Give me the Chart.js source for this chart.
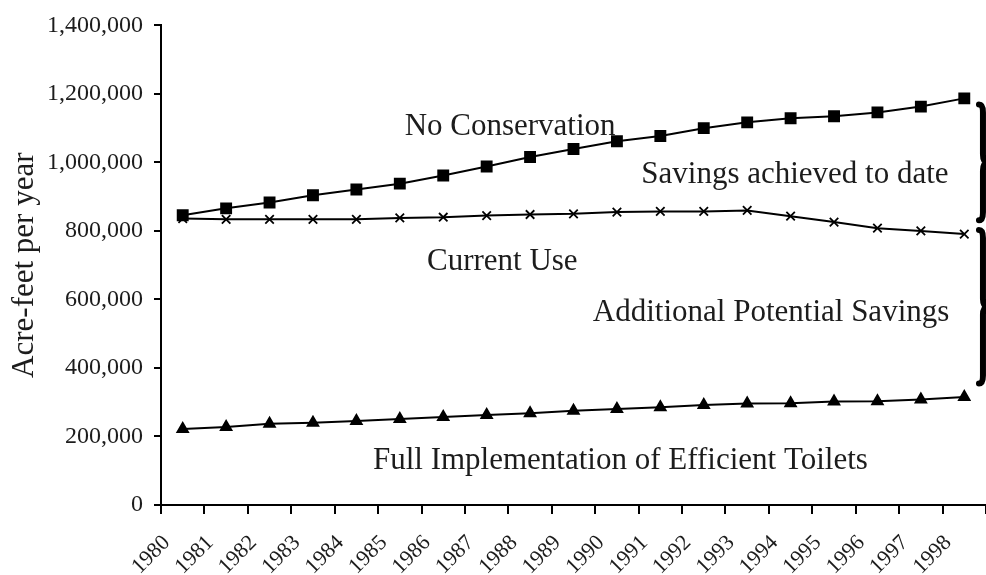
<!DOCTYPE html>
<html>
<head>
<meta charset="utf-8">
<script src="https://cdn.jsdelivr.net/npm/chart.js@4.4.1/dist/chart.umd.min.js"></script>
<style>
  html, body { margin: 0; padding: 0; background: #fff; }
  #wrap { width: 986px; height: 575px; }
</style>
</head>
<body>
<div id="wrap"><canvas id="c" width="986" height="575"></canvas></div>
<script>
// ---- data ----
const years = ['1980','1981','1982','1983','1984','1985','1986','1987','1988','1989',
               '1990','1991','1992','1993','1994','1995','1996','1997','1998'];
const noConservation = [846000, 866000, 883000, 904000, 921000, 938000, 962000, 988000, 1016000, 1039000,
                        1062000, 1077000, 1100000, 1117000, 1129000, 1135000, 1146000, 1163000, 1187000];
const currentUse = [836000, 834000, 834000, 834000, 834000, 838000, 840000, 845000, 848000, 850000,
                    855000, 857000, 857000, 860000, 843000, 826000, 808000, 800000, 791000];
const efficientToilets = [222000, 228000, 237000, 240000, 245000, 251000, 257000, 263000, 268000, 275000,
                          280000, 285000, 292000, 296000, 297000, 302000, 303000, 308000, 315000];
const yTicks = [0, 200000, 400000, 600000, 800000, 1000000, 1200000, 1400000];

// annotation text: [text, category index position, value]
const annotations = [
  ['No Conservation', 7.54, 1103000],
  ['Savings achieved to date', 14.1, 964000],
  ['Current Use', 7.36, 710000],
  ['Additional Potential Savings', 13.55, 560000],
  ['Full Implementation of Efficient Toilets', 10.08, 130000]
];
// braces: [index position, top value, bottom value]
const braces = [
  [18.43, 1169000, 831000],
  [18.43, 803000, 355000]
];

const SERIF = "'Liberation Serif', 'Times New Roman', serif";
const TXT = '#1c1c1c';

const annotationPlugin = {
  id: 'annots',
  afterDatasetsDraw(chart) {
    const ctx = chart.ctx;
    const xs = chart.scales.x, ys = chart.scales.y;
    ctx.save();
    ctx.fillStyle = TXT;
    ctx.font = '31px ' + SERIF;
    ctx.textAlign = 'center';
    ctx.textBaseline = 'middle';
    annotations.forEach(([t, xi, v]) => {
      ctx.fillText(t, xs.getPixelForValue(xi), ys.getPixelForValue(v));
    });
    // braces
    ctx.strokeStyle = '#000';
    ctx.lineWidth = 6;
    ctx.lineCap = 'round';
    braces.forEach(([xi, top, bot]) => {
      const x = xs.getPixelForValue(xi);
      const y1 = ys.getPixelForValue(top), y2 = ys.getPixelForValue(bot);
      const ym = (y1 + y2) / 2;
      const c = 8;
      ctx.beginPath();
      ctx.moveTo(x - 4, y1);
      ctx.quadraticCurveTo(x, y1, x, y1 + c);
      ctx.lineTo(x, ym - c);
      ctx.quadraticCurveTo(x, ym, x + 6, ym);
      ctx.quadraticCurveTo(x, ym, x, ym + c);
      ctx.lineTo(x, y2 - c);
      ctx.quadraticCurveTo(x, y2, x - 4, y2);
      ctx.stroke();
    });
    ctx.restore();
  }
};

new Chart(document.getElementById('c'), {
  type: 'line',
  data: {
    labels: years,
    datasets: [
      { label: 'No Conservation', data: noConservation, borderColor: '#000', backgroundColor: '#000',
        borderWidth: 2, pointStyle: 'rect', pointRadius: 7, pointHoverRadius: 7, tension: 0 },
      { label: 'Current Use', data: currentUse, borderColor: '#000', backgroundColor: '#000',
        borderWidth: 2, pointStyle: 'crossRot', pointRadius: 6, pointBorderWidth: 1.8, tension: 0 },
      { label: 'Full Implementation of Efficient Toilets', data: efficientToilets, borderColor: '#000', backgroundColor: '#000',
        borderWidth: 2, pointStyle: 'triangle', pointRadius: 6, tension: 0 }
    ]
  },
  options: {
    responsive: false,
    devicePixelRatio: 1,
    animation: false,
    layout: { autoPadding: false, padding: { top: 20, right: 0, left: 0, bottom: 0 } },
    plugins: { legend: { display: false }, tooltip: { enabled: false } },
    scales: {
      x: {
        type: 'category',
        offset: true,
        grid: { display: true, offset: true, drawOnChartArea: false, drawTicks: true, tickLength: 9, color: '#000', lineWidth: 2 },
        border: { display: true, color: '#000', width: 2 },
        ticks: { color: TXT, font: { family: SERIF, size: 22 }, minRotation: 45, maxRotation: 45,
                 labelOffset: -16, padding: 16, autoSkip: false },
        afterFit(s) { s.height = 70; s.paddingRight = 0; s.paddingLeft = 0; }
      },
      y: {
        min: 0, max: 1400000,
        afterBuildTicks(s) { s.ticks = yTicks.map(v => ({ value: v })); },
        grid: { display: true, drawOnChartArea: false, drawTicks: true, tickLength: 7, color: '#000', lineWidth: 2 },
        border: { display: true, color: '#000', width: 2 },
        ticks: { color: TXT, font: { family: SERIF, size: 24 }, padding: 11,
                 callback: v => v.toLocaleString('en-US') },
        title: { display: true, text: 'Acre-feet per year', color: TXT, font: { family: SERIF, size: 31 }, padding: { top: 6, bottom: 0 } },
        afterFit(s) { s.width = 161; }
      }
    }
  },
  plugins: [annotationPlugin]
});
</script>
</body>
</html>
